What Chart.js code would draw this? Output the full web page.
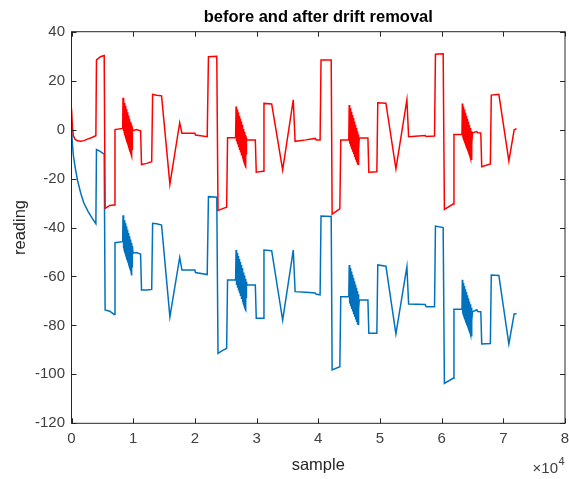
<!DOCTYPE html>
<html>
<head>
<meta charset="utf-8">
<title>before and after drift removal</title>
<script src="https://cdn.jsdelivr.net/npm/chart.js@4.4.1/dist/chart.umd.min.js"></script>
<style>
  body { margin: 0; background: #fff; }
  #wrap { width: 569px; height: 479px; }
</style>
</head>
<body>
<div id="wrap"><canvas id="myChart" width="569" height="479"></canvas></div>
<script>
// plateaus, ramps and jumps (sample index)
const stepX = [
  0, 150, 300, 600, 1000, 1500, 2000, 2700, 3300, 3950,
  4050, 4700, 5300, 5450, 6200, 6900, 7050, 8300,
  9970, 10500, 11200, 11350, 12200, 13000, 13150, 13800, 14600, 15950, 17540,
  17900, 20000, 20100, 22000, 22200, 23550, 23750, 24500, 25150, 25300, 26600,
  28450, 29800, 29950, 31050, 31200, 32450, 34230, 35950, 36250, 38000,
  39500, 39700, 40300, 40450, 42100, 42250, 43500, 43650, 44950,
  46650, 48050, 48200, 49500, 49650, 50970, 52590, 54370, 54650, 57340,
  57500, 58850, 59000, 60250, 60450, 61850, 62000, 63300,
  65000, 65700, 65850, 66350, 66500, 67900, 68050, 69280, 70900, 71760, 72150
];
// red: after drift removal
const stepAfter = [
  8.7, 1.0, -2.5, -4.0, -4.6, -4.8, -4.5, -3.8, -3.2, -2.5,
  28.5, 29.8, 30.3, -32.2, -31.0, -30.8, 0.0, 0.5,
  -0.5, 0.0, -0.5, -14.3, -13.8, -13.1, 14.4, 14.0, 13.8, -22.3, 2.8,
  -1.5, -1.5, -2.2, -2.9, 29.8, 30.0, -33.0, -32.3, -31.7, -3.3, -3.3,
  -4.2, -4.2, -17.4, -17.0, 10.7, 10.5, -16.5, 12.2, -4.8, -4.2,
  -3.6, -4.2, -4.2, 28.4, 28.4, -34.5, -32.4, -4.2, -4.2,
  -3.4, -3.4, -17.4, -17.2, 11.0, 10.8, -16.0, 12.2, -2.9, -2.4,
  -2.8, -2.6, 30.8, 31.0, -32.6, -30.4, -2.0, -2.0,
  -1.3, -0.8, -1.3, -1.4, -15.2, -14.0, 14.1, 14.4, -12.8, -0.1, 0.4
];
// blue: before drift removal
const stepBefore = [
  0.5, -6.0, -10.5, -15.5, -21.0, -26.0, -30.0, -33.5, -36.0, -38.5,
  -8.1, -9.0, -10.0, -73.7, -74.2, -75.5, -46.2, -45.8,
  -50.5, -50.2, -50.8, -65.5, -65.5, -65.3, -38.3, -38.5, -39.0, -76.5, -52.2,
  -57.4, -57.4, -58.4, -59.2, -27.4, -27.6, -91.4, -90.2, -89.4, -61.4, -61.4,
  -63.5, -63.5, -77.1, -77.1, -49.2, -49.5, -77.8, -49.2, -66.2, -66.5,
  -66.8, -67.3, -67.5, -35.3, -35.5, -98.2, -96.9, -68.3, -68.3,
  -69.6, -69.6, -83.2, -83.2, -55.3, -55.8, -83.5, -56.0, -71.3, -71.5,
  -72.4, -72.4, -39.4, -40.0, -103.7, -101.6, -73.4, -73.4,
  -74.4, -73.6, -74.3, -74.4, -87.6, -87.4, -59.4, -59.6, -87.6, -75.3, -75.2
];

// the four oscillation bursts, peaks and troughs read from the envelopes
const burstX = [
  8350, 8390, 8430, 8470, 8510, 8550, 8590, 8630, 8670, 8710, 8750, 8790, 8830,
  8870, 8910, 8950, 8990, 9030, 9070, 9110, 9150, 9190, 9230, 9270, 9310, 9350,
  9390, 9430, 9470, 9510, 9550, 9590, 9630, 9670, 9710, 9750, 9790, 9830, 9870,

  26680, 26720, 26760, 26800, 26840, 26880, 26920, 26960, 27000, 27040, 27080,
  27120, 27160, 27200, 27240, 27280, 27320, 27360, 27400, 27440, 27480, 27520,
  27560, 27600, 27640, 27680, 27720, 27760, 27800, 27840, 27880, 27920, 27960,
  28000, 28040, 28080, 28120, 28160, 28200, 28240, 28280, 28320, 28360,

  45020, 45060, 45100, 45140, 45180, 45220, 45260, 45300, 45340, 45380,
  45420, 45460, 45500, 45540, 45580, 45620, 45660, 45700, 45740, 45780,
  45820, 45860, 45900, 45940, 45980, 46020, 46060, 46100, 46140, 46180,
  46220, 46260, 46300, 46340, 46380, 46420, 46460, 46500, 46540, 46580,

  63360, 63400, 63440, 63480, 63520, 63560, 63600, 63640, 63680, 63720,
  63760, 63800, 63840, 63880, 63920, 63960, 64000, 64040, 64080, 64120,
  64160, 64200, 64240, 64280, 64320, 64360, 64400, 64440, 64480, 64520,
  64560, 64600, 64640, 64680, 64720, 64760, 64800, 64840, 64880, 64920
];
const burstAfter = [
  13.0, 0.0, 12.3, -0.6, 11.7, -1.3, 11.0, -1.9, 10.4, -2.5, 9.7, -3.2, 9.1,
  -3.8, 8.4, -4.4, 7.7, -5.1, 7.1, -5.7, 6.4, -6.3, 5.8, -7.0, 5.1, -7.6,
  4.4, -8.2, 3.8, -8.9, 3.1, -9.5, 2.5, -10.1, 1.8, -10.8, 1.2, -8.0, 0.5,

  9.4, -4.3, 8.8, -4.9, 8.2, -5.4, 7.6, -6.0, 7.0, -6.6, 6.3,
  -7.1, 5.7, -7.7, 5.1, -8.3, 4.5, -8.9, 3.9, -9.4, 3.3, -10.0,
  2.6, -10.6, 2.0, -11.1, 1.4, -11.7, 0.8, -12.3, 0.2, -12.9, -0.4,
  -13.4, -1.0, -14.0, -1.7, -14.6, -2.3, -15.0, -2.9, -10.0, -3.5,

  10.0, -5.3, 9.3, -5.8, 8.7, -6.3, 8.0, -6.9, 7.3, -7.4,
  6.7, -8.0, 6.0, -8.5, 5.3, -9.0, 4.7, -9.6, 4.0, -10.1,
  3.3, -10.7, 2.7, -11.2, 2.0, -11.7, 1.3, -12.3, 0.7, -12.8,
  0.0, -13.3, -0.7, -13.9, -1.3, -14.4, -2.0, -14.5, -2.7, -8.0,

  10.7, -2.8, 10.1, -3.3, 9.4, -3.8, 8.8, -4.4, 8.2, -4.9,
  7.6, -5.4, 6.9, -6.0, 6.3, -6.5, 5.7, -7.0, 5.1, -7.6,
  4.4, -8.1, 3.8, -8.6, 3.2, -9.2, 2.6, -9.7, 1.9, -10.2,
  1.3, -10.8, 0.7, -11.3, 0.1, -11.8, -0.6, -12.4, -1.2, -6.0
];
const burstBefore = [
  -35.0, -48.0, -35.7, -48.6, -36.3, -49.3, -37.0, -49.9, -37.6, -50.5, -38.3, -51.2, -38.9,
  -51.8, -39.6, -52.4, -40.3, -53.1, -40.9, -53.7, -41.6, -54.3, -42.2, -55.0, -42.9, -55.6,
  -43.6, -56.2, -44.2, -56.9, -44.9, -57.5, -45.5, -58.4, -46.2, -59.6, -46.8, -56.0, -47.5,

  -49.2, -62.9, -49.8, -63.5, -50.4, -64.0, -51.0, -64.6, -51.6, -65.2, -52.3,
  -65.7, -52.9, -66.3, -53.5, -66.9, -54.1, -67.5, -54.7, -68.0, -55.3, -68.6,
  -56.0, -69.2, -56.6, -69.7, -57.2, -70.3, -57.8, -70.9, -58.4, -71.5, -59.0,
  -72.0, -59.6, -72.6, -60.3, -73.2, -60.9, -73.6, -61.5, -68.6, -62.1,

  -55.3, -70.6, -56.0, -71.1, -56.6, -71.6, -57.3, -72.2, -58.0, -72.7,
  -58.6, -73.3, -59.3, -73.8, -60.0, -74.3, -60.6, -74.9, -61.3, -75.4,
  -62.0, -76.0, -62.6, -76.5, -63.3, -77.0, -64.0, -77.6, -64.6, -78.1,
  -65.3, -78.6, -66.0, -79.2, -66.6, -79.7, -67.3, -79.8, -68.0, -73.3,

  -61.4, -74.9, -62.0, -75.4, -62.7, -75.9, -63.3, -76.5, -63.9, -77.0,
  -64.5, -77.5, -65.2, -78.1, -65.8, -78.6, -66.4, -79.1, -67.0, -79.7,
  -67.7, -80.2, -68.3, -80.7, -68.9, -81.3, -69.5, -81.8, -70.2, -82.3,
  -70.8, -82.9, -71.4, -83.4, -72.0, -83.9, -72.7, -84.5, -73.3, -78.1
];

const xMin = 0, xMax = 80000, xStep = 10000;
const yMin = -120, yMax = 40, yStep = 20;

const axisColor = "#262626";
const labelColor = "#404040";
const fontFamily = '"Liberation Sans", Arial, Helvetica, sans-serif';

Chart.defaults.font.family = fontFamily;

// merge plateaus and bursts into one series, ordered by sample
function toPoints(stepY, burstY) {
  const pts = stepX.map((x, i) => ({ x: x, y: stepY[i] }))
    .concat(burstX.map((x, i) => ({ x: x, y: burstY[i] })));
  pts.sort((a, b) => a.x - b.x);
  return pts;
}

// matlab style box with inward ticks and the x10^4 exponent
const boxPlugin = {
  id: "matlabBox",
  afterDraw(chart) {
    const ctx = chart.ctx;
    const a = chart.chartArea;
    const xs = chart.scales.x;
    const ys = chart.scales.y;
    ctx.save();
    ctx.strokeStyle = axisColor;
    ctx.lineWidth = 1;
    ctx.strokeRect(a.left, a.top, a.right - a.left, a.bottom - a.top);
    ctx.beginPath();
    xs.ticks.forEach(t => {
      const p = Math.round(xs.getPixelForValue(t.value)) + 0.5;
      ctx.moveTo(p, a.bottom); ctx.lineTo(p, a.bottom - 5);
      ctx.moveTo(p, a.top); ctx.lineTo(p, a.top + 5);
    });
    ys.ticks.forEach(t => {
      const p = Math.round(ys.getPixelForValue(t.value)) + 0.5;
      ctx.moveTo(a.left, p); ctx.lineTo(a.left + 5, p);
      ctx.moveTo(a.right, p); ctx.lineTo(a.right - 5, p);
    });
    ctx.stroke();

    ctx.fillStyle = labelColor;
    ctx.textBaseline = "alphabetic";
    ctx.textAlign = "right";
    ctx.font = "15px " + fontFamily;
    ctx.fillText("\u00d710", 558, 473);
    ctx.textAlign = "left";
    ctx.font = "11px " + fontFamily;
    ctx.fillText("4", 558.5, 465);
    ctx.restore();
  }
};

new Chart("myChart", {
  type: "line",
  data: {
    datasets: [
      {
        label: "after drift removal",
        data: toPoints(stepAfter, burstAfter),
        borderColor: "#ff0000",
        borderWidth: 1.5,
        pointRadius: 0,
        tension: 0
      },
      {
        label: "before drift removal",
        data: toPoints(stepBefore, burstBefore),
        borderColor: "#0072bd",
        borderWidth: 1.5,
        pointRadius: 0,
        tension: 0
      }
    ]
  },
  options: {
    responsive: false,
    animation: false,
    layout: { padding: { left: 0, right: 4, top: 0, bottom: 0 } },
    plugins: {
      legend: { display: false },
      tooltip: { enabled: false },
      title: {
        display: true,
        fullSize: false,
        text: "before and after drift removal",
        color: "#000",
        font: { size: 16.5, weight: "bold" },
        padding: { top: 7.7, bottom: 4.2 }
      }
    },
    scales: {
      x: {
        type: "linear",
        min: xMin,
        max: xMax,
        grid: { display: false, drawTicks: false },
        border: { display: false },
        ticks: {
          stepSize: xStep,
          color: labelColor,
          font: { size: 15 },
          padding: 7,
          maxRotation: 0,
          callback: v => v / xStep
        },
        title: {
          display: true,
          text: "sample",
          color: axisColor,
          font: { size: 16.5 },
          padding: { top: 0, bottom: 4 }
        },
        afterFit: s => { s.height = 55.7; s.paddingLeft = 0; s.paddingRight = 0; }
      },
      y: {
        min: yMin,
        max: yMax,
        grid: { display: false, drawTicks: false },
        border: { display: false },
        ticks: {
          stepSize: yStep,
          color: labelColor,
          font: { size: 15 },
          padding: 6.5
        },
        title: {
          display: true,
          text: "reading",
          color: axisColor,
          font: { size: 16.5 },
          padding: { top: 11, bottom: 0 }
        },
        afterFit: s => { s.width = 71.5; s.paddingTop = 0; s.paddingBottom = 0; }
      }
    }
  },
  plugins: [boxPlugin]
});
</script>
</body>
</html>
